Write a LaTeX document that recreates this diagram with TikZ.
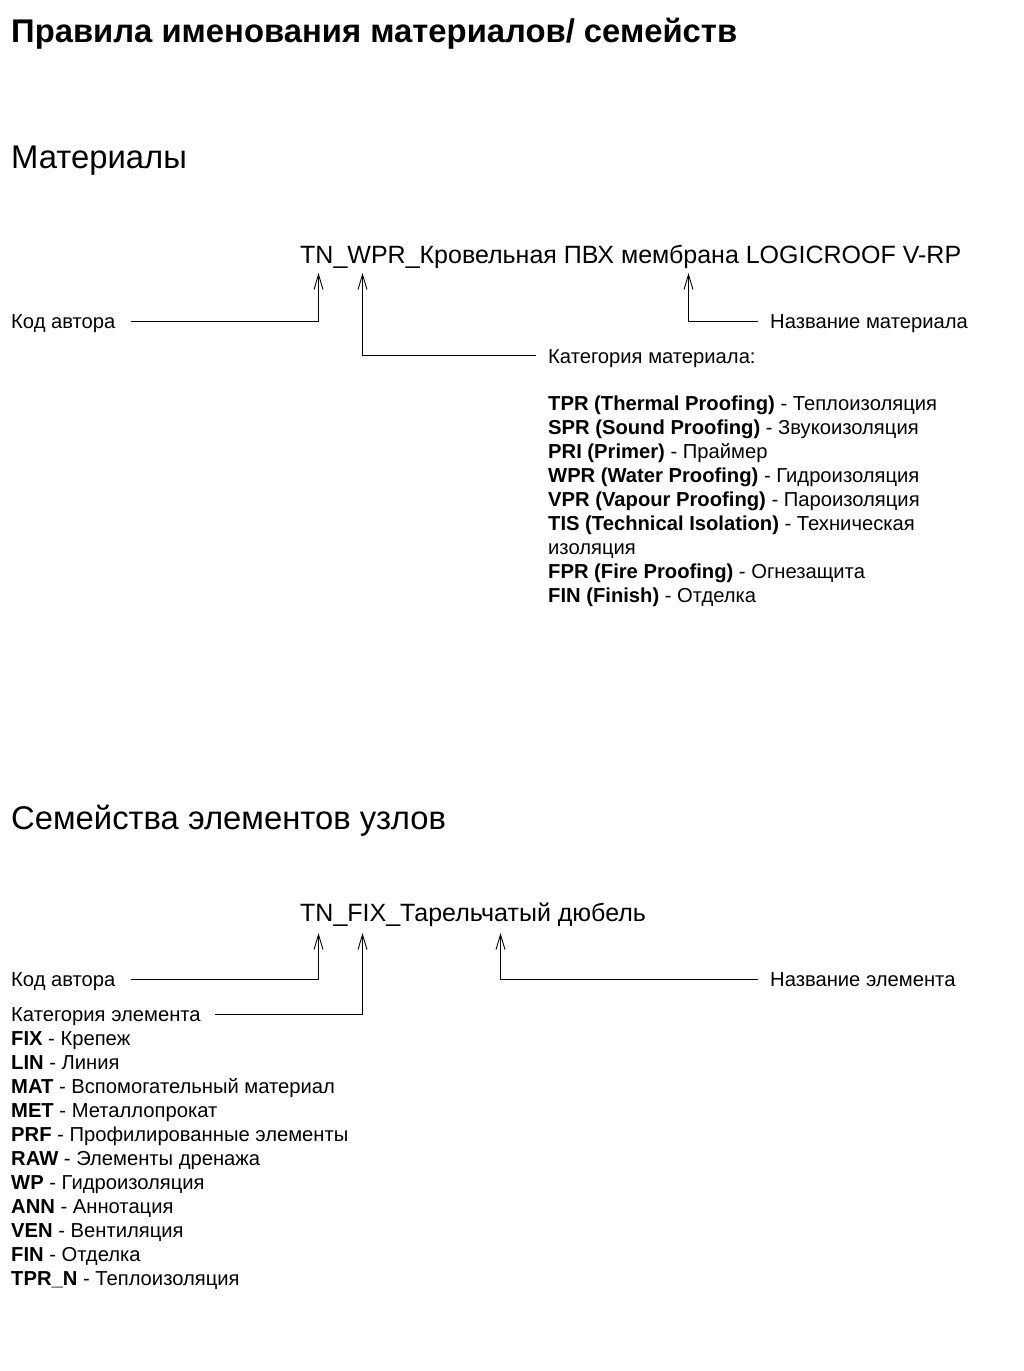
\documentclass[tikz,border=0pt]{standalone}
\usepackage{fontspec}
\setmainfont{Liberation Sans}
\usetikzlibrary{arrows.meta}
\begin{document}
\begin{tikzpicture}[x=1pt,y=-1pt,
  txt/.style={anchor=base west,inner sep=0pt,font=\fontsize{20.2}{24}\selectfont},
  headline/.style={anchor=base west,inner sep=0pt,font=\fontsize{32.8}{38}\selectfont},
  code/.style={anchor=base west,inner sep=0pt,font=\fontsize{25}{29}\selectfont},
  conn/.style={line width=1pt,-{Straight Barb[length=15pt,width=9pt,line width=0.9pt]}}]
\useasboundingbox[fill=white] (0,0) rectangle (1024,1371);

% title
\node[headline,font=\fontsize{32.8}{38}\selectfont\bfseries] (title) at (11,42) {Правила именования материалов/ семейств};

% ---------- materials ----------
\node[headline] (hmat) at (11,168) {Материалы};
\node[code] (mname) at (300,263) {TN\_WPR\_Кровельная ПВХ мембрана LOGICROOF V-RP};

\coordinate (mt1) at (318.5,273);
\coordinate (mt2) at (362.5,273);
\coordinate (mt3) at (688.5,273);
\coordinate (ms1) at (131,321);
\coordinate (ms2) at (536,355.5);
\coordinate (ms3) at (758,321);

\node[txt] (mauthor) at (11,328) {Код автора};
\node[txt] (mcat) at (548,363) {Категория материала:};
\node[txt] (mtitle) at (770,328) {Название материала};

\draw[conn] (ms1) -| (mt1);
\draw[conn] (ms2) -| (mt2);
\draw[conn] (ms3) -| (mt3);

\foreach \n/\y/\k/\v in {
  1/410/TPR (Thermal Proofing)/Теплоизоляция,
  2/434/SPR (Sound Proofing)/Звукоизоляция,
  3/458/PRI (Primer)/Праймер,
  4/482/WPR (Water Proofing)/Гидроизоляция,
  5/506/VPR (Vapour Proofing)/Пароизоляция,
  6/530/TIS (Technical Isolation)/Техническая,
  8/578/FPR (Fire Proofing)/Огнезащита,
  9/602/FIN (Finish)/Отделка}
  \node[txt] (ml\n) at (548,\y) {\textbf{\k} - \v};
\node[txt] (ml7) at (548,554) {изоляция};

% ---------- families ----------
\node[headline] (hfam) at (11,829) {Семейства элементов узлов};
\node[code] (fname) at (300,921) {TN\_FIX\_Тарельчатый дюбель};

\coordinate (ft1) at (318.5,933);
\coordinate (ft2) at (362.5,933);
\coordinate (ft3) at (500.5,933);
\coordinate (fs1) at (131,979);
\coordinate (fs2) at (215,1014);
\coordinate (fs3) at (758,979);

\node[txt] (fauthor) at (11,986) {Код автора};
\node[txt] (fcat) at (11,1021) {Категория элемента};
\node[txt] (ftitle) at (770,986) {Название элемента};

\draw[conn] (fs1) -| (ft1);
\draw[conn] (fs2) -| (ft2);
\draw[conn] (fs3) -| (ft3);

\foreach \n/\k/\v in {
  0/FIX/Крепеж,
  1/LIN/Линия,
  2/MAT/Вспомогательный материал,
  3/MET/Металлопрокат,
  4/PRF/Профилированные элементы,
  5/RAW/Элементы дренажа,
  6/WP/Гидроизоляция,
  7/ANN/Аннотация,
  8/VEN/Вентиляция,
  9/FIN/Отделка,
  10/TPR\_N/Теплоизоляция}
  \node[txt] (fl\n) at (11,1045+24*\n) {\textbf{\k} - \v};
\end{tikzpicture}
\end{document}
